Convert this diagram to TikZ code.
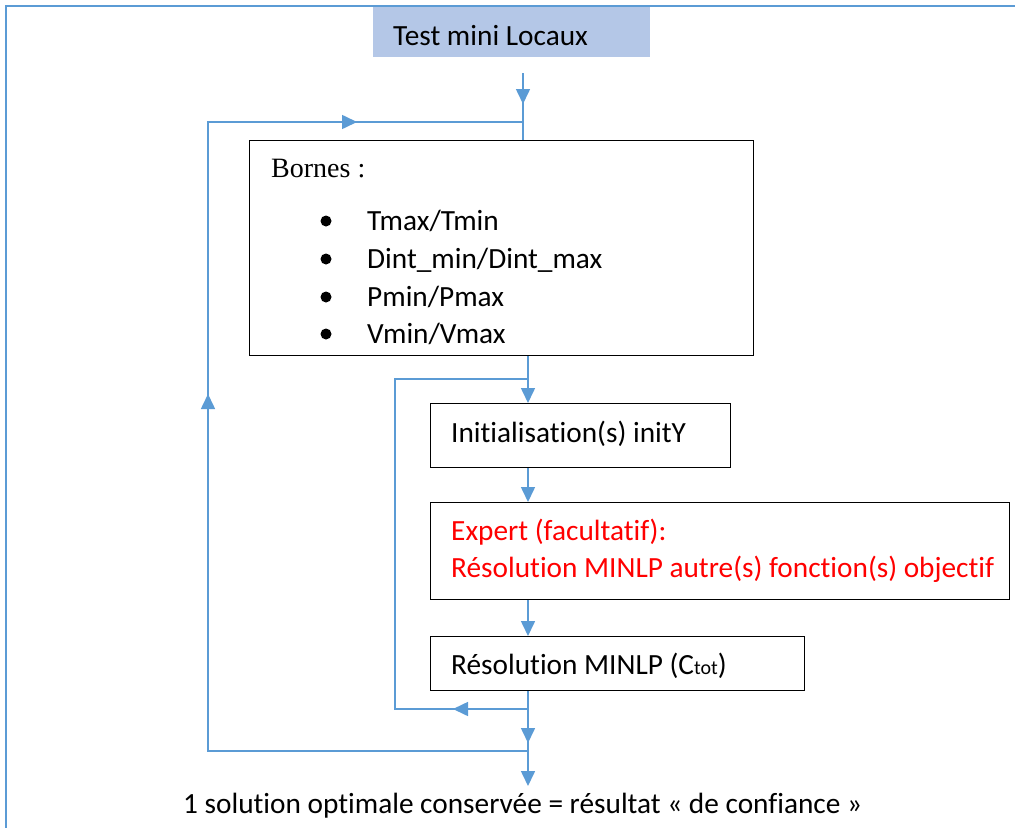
\documentclass[tikz,border=0pt]{standalone}
\usepackage{fontspec}
\setmainfont{Carlito}[Ligatures=NoCommon]
\newfontfamily\tnr{Liberation Serif}
\usetikzlibrary{arrows.meta}
\definecolor{lnblue}{HTML}{5B9BD5}
\definecolor{hdrfill}{HTML}{B4C7E7}
\definecolor{redtxt}{HTML}{FF0000}
\begin{document}
\begin{tikzpicture}[x=1bp,y=-1bp,
  flow/.style={draw=lnblue, line width=1.6bp},
  tip/.style={-{Triangle[length=15bp,width=14bp]}},
  box/.style={draw=black, line width=1.3bp, inner sep=0, anchor=north west},
  txt/.style={font=\fontsize{29.3bp}{35bp}\selectfont, inner sep=0, anchor=base west},
  bul/.style={circle, fill=black, inner sep=0, minimum size=11bp}]
\useasboundingbox (0,0) rectangle (1015,828);
% frame
\draw[lnblue, line width=2.4bp] (6,828) -- (6,6) -- (1015,6);
% header
\node[fill=hdrfill, inner sep=0, anchor=north west, minimum width=277bp, minimum height=50bp] (hdr) at (373,7) {};
\node[txt] (hdrt) at (393,45) {Test mini Locaux};
% boxes
\node[box, minimum width=504bp, minimum height=215bp] (bornes) at (249,140) {};
\node[txt, font=\tnr\fontsize{28bp}{34bp}\selectfont] (bt) at (271,177) {Bornes :};
\node[txt] (b1) at (367,230) {Tmax/Tmin};
\node[txt] (b2) at (367,268) {Dint\_min/Dint\_max};
\node[txt] (b3) at (367,306) {Pmin/Pmax};
\node[txt] (b4) at (367,343) {Vmin/Vmax};
\node[bul] (u1) at (326,221) {};
\node[bul] (u2) at (326,259) {};
\node[bul] (u3) at (326,297) {};
\node[bul] (u4) at (326,334) {};
\node[box, minimum width=300bp, minimum height=64bp] (init) at (430,403) {};
\node[txt] (initt) at (451,442) {Initialisation(s) initY};
\node[box, minimum width=579bp, minimum height=97bp] (expert) at (430,502) {};
\node[txt, text=redtxt] (ex1) at (451,540) {Expert (facultatif):};
\node[txt, text=redtxt] (ex2) at (451,577) {Résolution MINLP autre(s) fonction(s) objectif};
\node[box, minimum width=374bp, minimum height=54bp] (resol) at (430,636) {};
\node[txt] (resolt) at (451,674) {Résolution MINLP (C{\fontsize{20bp}{24bp}\selectfont tot})};
\node[txt] (final) at (183,813) {1 solution optimale conservée = résultat « de confiance »};
% coordinates
\coordinate (s0) at (523,73);
\coordinate (j1) at (523,122);
\coordinate (o1) at (208,122);
\coordinate (o2) at (208,751);
\coordinate (j4) at (528,751);
\coordinate (j2) at (528,379);
\coordinate (i1) at (395,379);
\coordinate (i2) at (395,709);
\coordinate (j3) at (528,709);
\coordinate (e0) at (528,786);
% main line
\draw[flow, tip] (s0) -- (523,104);
\draw[flow] (523,100) -- (j1) -- (bornes.north -| j1);
\draw[flow] (bornes.south -| j2) -- (j2);
\draw[flow, tip] (j2) -- (init.north -| j2);
\draw[flow, tip] (init.south -| j2) -- (expert.north -| j2);
\draw[flow, tip] (expert.south -| j2) -- (resol.north -| j2);
\draw[flow] (resol.south -| j3) -- (j3);
\draw[flow, tip] (j3) -- (528,743);
\draw[flow] (528,740) -- (j4);
\draw[flow, tip] (j4) -- (e0);
% inner loop
\draw[flow, tip] (j3) -- (453,709);
\draw[flow] (456,709) -- (i2) -- (i1) -- (j2);
% outer loop
\draw[flow] (j4) -- (o2) -- (208,400);
\draw[flow, tip] (208,420) -- (208,394);
\draw[flow] (208,400) -- (o1) -- (345,122);
\draw[flow, tip] (340,122) -- (357,122);
\draw[flow] (355,122) -- (j1);
\end{tikzpicture}
\end{document}
